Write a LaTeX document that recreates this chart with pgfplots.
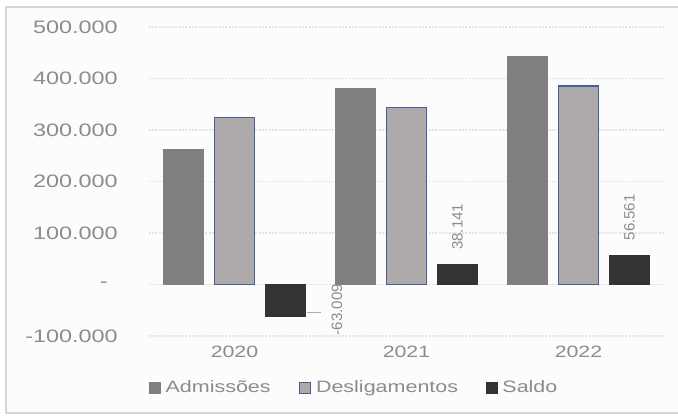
\documentclass[border=0pt]{standalone}
\usepackage{pgfplots}
\pgfplotsset{compat=1.18}
\usepackage{fontspec}
\setmainfont{Liberation Sans}[FakeStretch=1.3]
\newfontfamily\plainfont{Liberation Sans}
\usepackage{graphicx}

\definecolor{adm}{HTML}{7F7F7F}
\definecolor{desl}{HTML}{AEAAAA}
\definecolor{deslborder}{HTML}{44609C}
\definecolor{saldo}{HTML}{333333}
\definecolor{txt}{HTML}{8C8C8C}
\definecolor{gridc}{HTML}{E3E3E3}
\definecolor{framec}{HTML}{D4D4D4}

\begin{document}
\begin{tikzpicture}
% page = 678 x 417 px, 1 px = 0.75pt
\useasboundingbox (0,0) rectangle (508.5pt,312.75pt);
\fill[white] (0,0) rectangle (508.5pt,312.75pt);
\fill[gray!2] (4.5pt,3pt) rectangle (508.5pt,307.5pt);
\draw[framec, line width=1pt] (508.5pt,307.5pt) -- (4.5pt,307.5pt) -- (4.5pt,3pt) -- (508.5pt,3pt);

\begin{axis}[
    at={(111.375pt,60.75pt)}, anchor=south west,
    scale only axis,
    width=387pt, height=231.75pt,
    ybar=8.25pt, bar width=30pt,
    xmin=-0.5, xmax=2.5,
    ymin=-100000, ymax=500000,
    scaled y ticks=false,
    xtick={0,1,2}, xticklabels={2020,2021,2022},
    ytick={-100000,0,100000,200000,300000,400000,500000},
    yticklabels={-100.000,{-\hspace*{7.5pt}},100.000,200.000,300.000,400.000,500.000},
    axis line style={draw=none},
    major tick length=0pt,
    ymajorgrids,
    major grid style={gridc, line width=0.8pt, dash pattern=on 1.5pt off 1pt},
    extra y ticks={0}, extra y tick labels={},
    extra y tick style={grid style={solid, gridc!80!gray, line width=0.8pt}},
    yticklabel style={anchor=east, inner sep=0pt, xshift=-22.9pt, text=txt,
        font=\fontsize{13.5}{14}\selectfont},
    xticklabel style={anchor=north, inner sep=0pt, yshift=-7.5pt, text=txt,
        font=\fontsize{12.3}{13}\selectfont},
    legend style={
        at={(0.397,-0.168)}, anchor=center,
        draw=none, fill=none,
        legend columns=-1,
        font=\fontsize{12.4}{13}\selectfont, text=txt,
        nodes={inner sep=0pt},
        /tikz/every odd column/.append style={column sep=4pt},
        /tikz/every even column/.append style={column sep=21pt},
    },
    legend image code/.code={\draw[#1] (0pt,-4.1pt) rectangle (8.2pt,4.1pt);},
]
\addplot[fill=adm, draw=adm, line width=0pt] coordinates {
    (0,261491) (1,381500) (2,442000)
};
\addplot[fill=desl, draw=deslborder, line width=0.8pt] coordinates {
    (0,324500) (1,343359) (2,385439)
};
\addplot[fill=saldo, draw=saldo, line width=0pt,
    point meta=explicit symbolic,
    nodes near coords={\pgfplotspointmeta},
    every node near coord/.append style={rotate=90, anchor=west, inner sep=0pt,
        xshift=11.25pt, text=txt, font=\plainfont\fontsize{11.3}{12}\selectfont},
] coordinates {
    (0,-63009) [{}]
    (1,38141) [38.141]
    (2,56561) [56.561]
};
\legend{Admissões,Desligamentos,Saldo}
% label of the negative bar, set beside it with a leader line
\draw[txt!70, line width=0.6pt] (axis cs:0.42,-53400) -- (axis cs:0.502,-53400);
\node[rotate=90, inner sep=0pt, text=txt, font=\plainfont\fontsize{11.3}{12}\selectfont]
    at (axis cs:0.595,-48500) {-63.009};
\end{axis}
\end{tikzpicture}
\end{document}
